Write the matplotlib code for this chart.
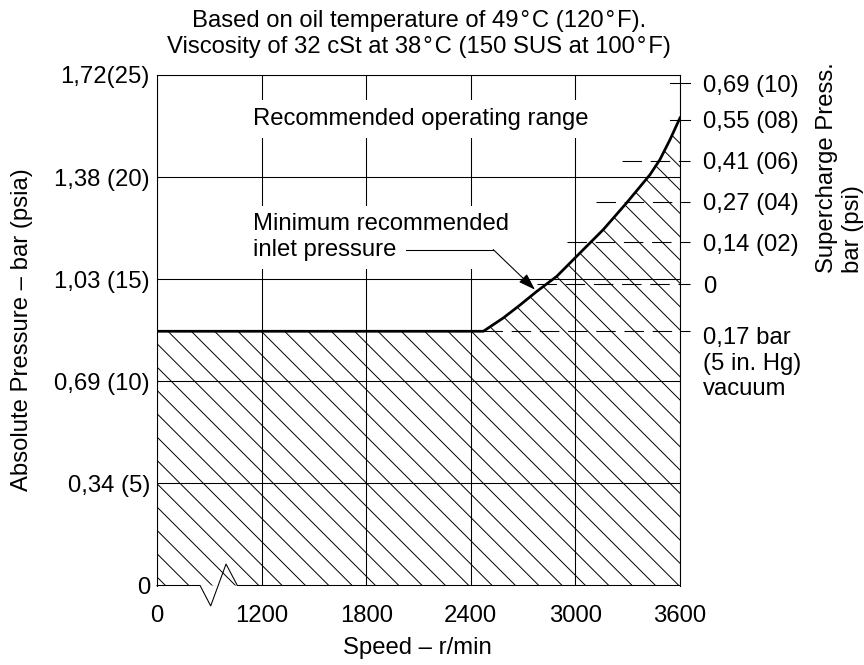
import matplotlib
matplotlib.use("Agg")
import matplotlib.pyplot as plt

plt.rcParams['font.family'] = ['Liberation Sans', 'DejaVu Sans']
plt.rcParams['font.size'] = 12.3
plt.rcParams['hatch.linewidth'] = 0.5
plt.rcParams['hatch.color'] = 'black'
plt.rcParams['lines.scale_dashes'] = False

# ----- DATA (pressures in psia, speed in r/min; 600 is the broken "0") -----
speed = [600, 2472, 2586, 2680, 2778, 2893, 3007, 3160, 3294, 3428, 3485, 3543, 3600]
inlet_psia = [12.45, 12.45, 13.10, 13.72, 14.40, 15.14, 16.12, 17.43, 18.74, 20.12, 20.86, 21.84, 22.90]

speed_ticks = [600, 1200, 1800, 2400, 3000, 3600]
speed_labels = ['0', '1200', '1800', '2400', '3000', '3600']

abs_ticks = [0, 5, 10, 15, 20, 25]
abs_labels = ['0', '0,34 (5)', '0,69 (10)', '1,03 (15)', '1,38 (20)', '1,72(25)']

super_psia = [24.6, 22.8, 20.8, 18.8, 16.8, 14.75]
super_labels = ['0,69 (10)', '0,55 (08)', '0,41 (06)', '0,27 (04)', '0,14 (02)', '0']
super_start = [3543, 3543, 3266, 3118, 2950, 2778]
super_dashed = [False, False, True, True, True, True]

vacuum_psia = 12.45
vacuum_start = 2472
vacuum_label = '0,17 bar\n(5 in. Hg)\nvacuum'
line_end = 3657

break_speed = [600, 847, 908, 996, 1061, 3600]
break_psia = [0, 0, -1.0, 1.05, 0, 0]

deg = '\u200a°\u200a'
title = (f'Based on oil temperature of 49{deg}C (120{deg}F).\n'
         f'Viscosity of 32 cSt at 38{deg}C (150 SUS at 100{deg}F)')

DPI = 140
fig = plt.figure(figsize=(864 / DPI, 665 / DPI), dpi=DPI)
ax = fig.add_axes([157 / 864, 1 - 585.5 / 665, 523 / 864, 510.5 / 665])

ax.set_xlim(600, 3600)
ax.set_ylim(0, 25)
ax.set_xticks(speed_ticks, speed_labels)
ax.set_yticks(abs_ticks, abs_labels)
ax.tick_params(axis='x', length=0, pad=10)
ax.tick_params(axis='y', length=0, pad=3.6)
ax.grid(True, color='black', lw=0.55)

for s in ['left', 'top', 'right']:
    ax.spines[s].set_linewidth(0.55)
ax.spines['bottom'].set_visible(False)
ax.plot(break_speed, break_psia, color='black', lw=0.55, clip_on=False)

# hatched region below minimum inlet pressure
ax.fill_between(speed, 0, inlet_psia, facecolor='none', edgecolor='black',
                hatch='\\\\', linewidth=0, zorder=2)
ax.plot(speed, inlet_psia, color='black', lw=1.4, zorder=4, solid_joinstyle='round')

# supercharge reference lines
for lvl, start, dashed in zip(super_psia, super_start, super_dashed):
    ls = (0, (10, 4.5)) if dashed else '-'
    ax.plot([start, line_end], [lvl, lvl], color='black', lw=0.55, ls=ls, clip_on=False, zorder=3)
ax.plot([vacuum_start, line_end], [vacuum_psia, vacuum_psia], color='black', lw=0.55,
        ls=(0, (10, 4.5)), clip_on=False, zorder=3)

ax2 = ax.twinx()
ax2.set_ylim(0, 25)
ax2.set_yticks(super_psia, super_labels)
ax2.tick_params(axis='y', length=0, pad=11.8)
for s in ax2.spines.values():
    s.set_visible(False)

ax.annotate(vacuum_label, xy=(1, vacuum_psia), xycoords=ax.get_yaxis_transform(),
            xytext=(11.8, 2), textcoords='offset points', ha='left', va='top')

# labels inside the plot
box = dict(facecolor='white', edgecolor='none', pad=4)
ax.text(1149, 22.86, 'Recommended operating range', ha='left', va='center', bbox=box, zorder=3)
ax.text(1149, 17.06, 'Minimum recommended\ninlet pressure', ha='left', va='center', bbox=box, zorder=3)
ax.plot([2030, 2529], [16.45, 16.45], color='black', lw=0.55, zorder=4)
ax.annotate('', xy=(2768, 14.49), xytext=(2529, 16.45),
            arrowprops=dict(arrowstyle='-|>,head_length=0.6,head_width=0.2', color='black',
                            lw=0.55, shrinkA=0, shrinkB=0), zorder=5)

fig.text(419 / 864, 1 - 34 / 665, title, ha='center', va='center')
fig.text(22 / 864, 1 - 330 / 665, 'Absolute Pressure – bar (psia)', rotation=90, ha='center', va='center')
fig.text(840 / 864, 1 - 273 / 665, 'Supercharge Press.\nbar (psi)', rotation=90,
         ha='center', va='bottom', multialignment='left')
fig.text(417 / 864, 1 - 648 / 665, 'Speed – r/min', ha='center', va='center')

fig.savefig('out.png', dpi=DPI)
